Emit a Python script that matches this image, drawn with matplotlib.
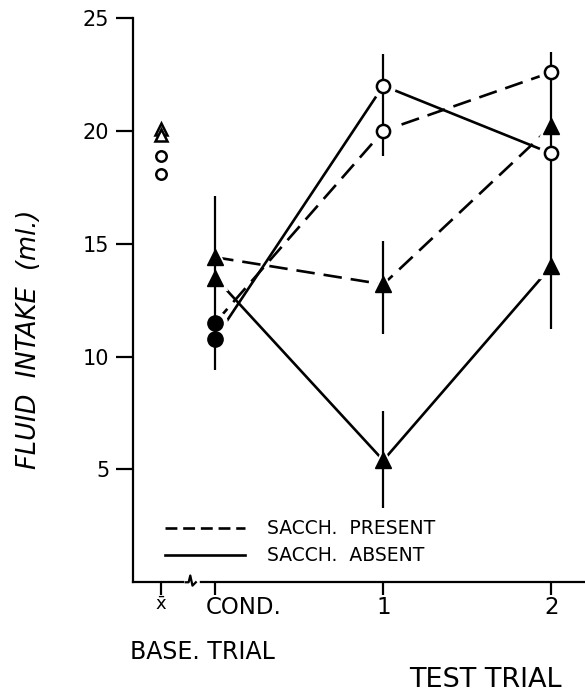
import numpy as np
import matplotlib.pyplot as plt
from matplotlib.transforms import blended_transform_factory, ScaledTranslation

# x positions: baseline mean, conditioning trial, test trials 1 and 2
x_base = -0.32
x_trials = [0, 1, 2]
tick_pos = [x_base, 0, 1, 2]
tick_labels = ['$\\bar{\\mathregular{x}}$', 'COND.', '1', '2']

# baseline means
base_tri = [20.1, 19.8]
base_circ = [18.9, 18.1]

# circle groups (cond, test1, test2)
circ_present = [11.5, 20.0, 22.6]
circ_absent = [10.8, 22.0, 19.0]
# triangle groups
tri_present = [14.4, 13.2, 20.2]
tri_absent = [13.5, 5.4, 14.0]

# vertical error spans at each trial
err_x = [0, 1, 1, 1, 2]
err_lo = [9.4, 18.9, 11.0, 3.3, 11.2]
err_hi = [17.1, 23.4, 15.1, 7.6, 23.5]

fig = plt.figure(figsize=(5.85, 6.94), dpi=100)
ax = fig.add_axes([0.227, 0.161, 0.773, 0.813])

lw = 1.9
dash = (7.0, 3.4)
ax.plot(x_trials, circ_present, color='k', lw=lw, dashes=dash, zorder=2)
ax.plot(x_trials, tri_present, color='k', lw=lw, dashes=dash, zorder=2)
ax.plot(x_trials, circ_absent, color='k', lw=lw, zorder=2)
ax.plot(x_trials, tri_absent, color='k', lw=lw, zorder=2)

# white halos so the lines stop short of the points
for ys, m in [(circ_present, 'o'), (circ_absent, 'o'), (tri_present, '^'), (tri_absent, '^')]:
    ax.plot(x_trials, ys, ls='none', marker=m, ms=17, mfc='white', mec='white', zorder=3)

ax.vlines(err_x, err_lo, err_hi, color='k', lw=1.6, zorder=4)

# cond trial filled, test trials open circles / filled triangles
ax.plot([0, 0], [circ_present[0], circ_absent[0]], ls='none', marker='o', ms=11, color='k', zorder=5)
ax.plot([1, 2], circ_present[1:], ls='none', marker='o', ms=9.5, mfc='white', mec='k', mew=1.8, zorder=5)
ax.plot([1, 2], circ_absent[1:], ls='none', marker='o', ms=9.5, mfc='white', mec='k', mew=1.8, zorder=5)
ax.plot(x_trials, tri_present, ls='none', marker='^', ms=11.5, color='k', zorder=5)
ax.plot(x_trials, tri_absent, ls='none', marker='^', ms=11.5, color='k', zorder=5)

# baseline
ax.plot([x_base] * 2, base_tri, ls='none', marker='^', ms=9, mfc='white', mec='k', mew=1.8, zorder=5)
ax.plot([x_base] * 2, base_circ, ls='none', marker='o', ms=7.5, mfc='white', mec='k', mew=1.8, zorder=5)

ax.set_xlim(-0.49, 2.2)
ax.set_ylim(0, 25)
ax.spines['top'].set_visible(False)
ax.spines['right'].set_visible(False)
ax.spines['left'].set_linewidth(1.6)
ax.spines['bottom'].set_linewidth(1.6)

ax.set_yticks([5, 10, 15, 20, 25])
ax.tick_params(axis='y', direction='out', length=12, width=1.6, labelsize=15, pad=5)
ax.set_xticks(tick_pos)
ax.set_xticklabels(tick_labels)
ax.tick_params(axis='x', direction='out', length=9, width=1.6, labelsize=16.5, pad=1)
xl = ax.get_xticklabels()
xl[0].set_fontsize(13)
xl[1].set_horizontalalignment('left')
xl[1].set_transform(xl[1].get_transform() + ScaledTranslation(-0.09, 0, fig.dpi_scale_trans))

ax.set_ylabel('FLUID  INTAKE  (ml.)', fontsize=18.5, style='italic')
ax.yaxis.set_label_coords(-0.2, 0.43)

# axis break
tr = blended_transform_factory(ax.transData, ax.transAxes)
ax.plot([-0.17, -0.11], [0, 0], color='white', lw=4, transform=tr, clip_on=False, zorder=6)
bx = [-0.175, -0.158, -0.148, -0.135, -0.115]
by = [0, 0, 0.012, -0.006, 0]
ax.plot(bx, by, color='k', lw=1.6, transform=tr, clip_on=False, zorder=7)

fig.text(0.346, 0.061, 'BASE. TRIAL', fontsize=17, ha='center', va='center')
fig.text(0.83, 0.02, 'TEST TRIAL', fontsize=19.5, ha='center', va='center')

# legend
ax.plot([-0.30, 0.18], [2.4, 2.4], color='k', lw=lw, dashes=(4.5, 2.2))
ax.plot([-0.30, 0.18], [1.2, 1.2], color='k', lw=lw)
ax.text(0.31, 2.4, 'SACCH.  PRESENT', fontsize=13.5, va='center')
ax.text(0.31, 1.2, 'SACCH.  ABSENT', fontsize=13.5, va='center')

fig.savefig('out.png', dpi=100)
